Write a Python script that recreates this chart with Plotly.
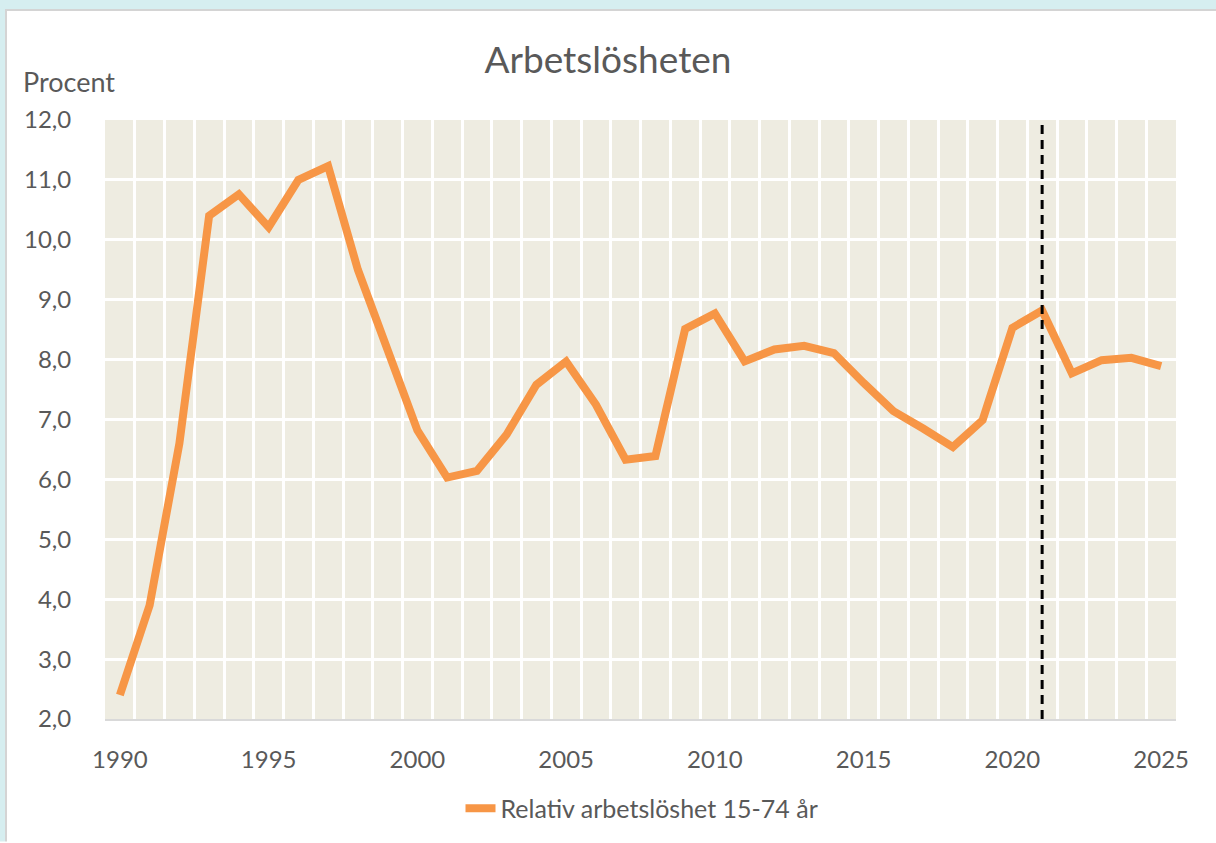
import plotly.graph_objects as go

years = list(range(1990, 2026))
unemployment = [2.4, 3.9, 6.6, 10.4, 10.76, 10.21, 11.0, 11.23, 9.5, 8.2,
                6.82, 6.03, 6.14, 6.75, 7.58, 7.97, 7.25, 6.33, 6.39, 8.51,
                8.77, 7.97, 8.17, 8.23, 8.11, 7.61, 7.14, 6.85, 6.54, 6.99,
                8.53, 8.82, 7.77, 7.99, 8.03, 7.89]
series_name = "Relativ arbetslöshet 15-74 år"
year_ticks = [1990, 1995, 2000, 2005, 2010, 2015, 2020, 2025]
y_ticks = [2, 3, 4, 5, 6, 7, 8, 9, 10, 11, 12]
forecast_year = 2021

FONT = "Lato"
GREY = "#595959"
W, H = 1216, 843
L, T, PW, PH = 105, 120, 1071, 602
R = W - L - PW
B = H - T - PH


def px_x(px):
    return (px - L) / PW


def px_y(py):
    return (T + PH - py) / PH


fig = go.Figure()
fig.add_trace(go.Scatter(
    x=years, y=unemployment, mode="lines", name=series_name,
    line=dict(color="#F79646", width=8), showlegend=True))
fig.add_trace(go.Scatter(
    x=[forecast_year, forecast_year], y=[y_ticks[0], y_ticks[-1]], mode="lines",
    line=dict(color="black", width=3, dash="9px,6px"), showlegend=False,
    hoverinfo="skip"))

cyan = "#D6EEF0"
border = "#D4D4D4"
fig.update_layout(
    width=W, height=H,
    paper_bgcolor="white",
    plot_bgcolor="#EEECE1",
    separators=", ",
    font=dict(family=FONT, color=GREY, size=24),
    margin=dict(l=L, r=R, t=T, b=B),
    title=dict(text="Arbetslösheten", x=0.5, xanchor="center", y=1 - 60 / H,
               yanchor="middle", font=dict(size=37, color=GREY, family=FONT)),
    showlegend=True,
    legend=dict(orientation="h", x=px_x(642), xanchor="center", y=px_y(812),
                yanchor="middle",
                font=dict(size=25, color=GREY, family=FONT),
                bgcolor="rgba(0,0,0,0)"),
    shapes=[
        dict(type="rect", xref="paper", yref="paper", x0=px_x(-2), x1=px_x(W + 2),
             y0=px_y(8.5), y1=px_y(-2), line=dict(width=0), fillcolor=cyan),
        dict(type="rect", xref="paper", yref="paper", x0=px_x(-2), x1=px_x(5),
             y0=px_y(H + 2), y1=px_y(-2), line=dict(width=0), fillcolor=cyan),
        dict(type="line", xref="paper", yref="paper", x0=px_x(5), x1=px_x(W + 2),
             y0=px_y(9.5), y1=px_y(9.5), line=dict(color=border, width=2)),
        dict(type="line", xref="paper", yref="paper", x0=px_x(6), x1=px_x(6),
             y0=px_y(9.5), y1=px_y(H + 2), line=dict(color=border, width=2)),
    ],
    annotations=[dict(text="Procent", xref="paper", yref="paper",
                      x=px_x(21), xanchor="left", y=px_y(81), yanchor="middle",
                      showarrow=False, font=dict(size=27, color=GREY, family=FONT))],
)

fig.update_xaxes(
    range=[1989.5, 2025.5], tickmode="array", tickvals=year_ticks,
    ticktext=[str(t) for t in year_ticks],
    showgrid=False, zeroline=False,
    showline=True, linecolor="#D9D9D9", linewidth=2,
    ticks="outside", ticklen=18, tickcolor="rgba(0,0,0,0)",
    minor=dict(tickmode="linear", tick0=1989.5, dtick=1, showgrid=True,
               gridcolor="white", gridwidth=3, ticks=""),
    tickfont=dict(size=24, color=GREY, family=FONT),
)
fig.update_yaxes(
    range=[2, 12], tickmode="array", tickvals=y_ticks, tickformat=".1f",
    showgrid=True, gridcolor="white", gridwidth=3, zeroline=False,
    showline=False,
    ticks="outside", ticklen=28, tickcolor="rgba(0,0,0,0)",
    tickfont=dict(size=24, color=GREY, family=FONT),
)

fig.write_html("out.html", config={"displayModeBar": False},
               post_script="document.body.style.margin='0';")
